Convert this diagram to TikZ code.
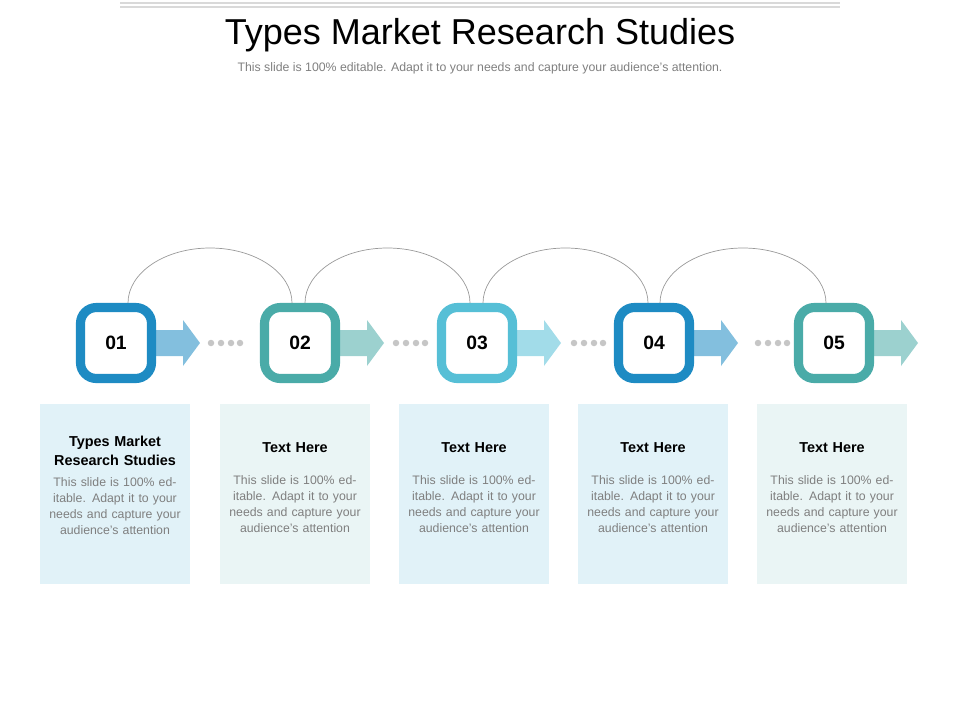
\documentclass[tikz,border=0pt]{standalone}
\usepackage{fontspec}
\setmainfont{Liberation Sans}
\usetikzlibrary{positioning, calc}
\definecolor{cblue}{HTML}{1E8BC3}
\definecolor{cteal}{HTML}{4AABA8}
\definecolor{csky}{HTML}{56BFD6}
\definecolor{pblue}{HTML}{E1F2F8}
\definecolor{pteal}{HTML}{EAF5F5}
\definecolor{txtgray}{HTML}{7F7F7F}
\begin{document}
\begin{tikzpicture}[
        x=0.02cm, y=-0.02cm,
        stepbox/.style={rectangle, rounded corners=9pt, line width=5.2pt, fill=white, minimum size=1.42cm, font=\fontsize{11}{13}\selectfont\bfseries},
        panel/.style={rectangle, minimum width=3.02cm, minimum height=3.6cm, inner sep=0pt},
        head/.style={font=\fontsize{8.2}{10.5}\selectfont\bfseries, align=center, text width=2.9cm},
        body/.style={font=\fontsize{7}{9.1}\selectfont, text=txtgray, align=center, text width=2.7cm},
        dot/.style={circle, fill=gray!45, inner sep=0pt, minimum size=0.13cm}
    ]
        \useasboundingbox (0,0) rectangle (960,720);
        \draw[gray!30, line width=1pt] (120,3) -- (840,3);
        \draw[gray!30, line width=1pt] (120,7) -- (840,7);
        \node (title) at (480,35) {\fontsize{20.5}{24}\selectfont Types Market Research Studies};
        \node[text=txtgray] (subtitle) at (480,68) {\fontsize{7}{9}\selectfont This slide is 100\% editable. Adapt it to your needs and capture your audience's attention.};

        % steps with arrows and panels
        \foreach \n/\x/\px/\c/\pc in {1/116/115/cblue/pblue, 2/300/295/cteal/pteal, 3/477/474/csky/pblue, 4/654/653/cblue/pblue, 5/834/832/cteal/pteal} {
            \fill[\c!55] ($(\x,343)+(40,-13)$) -- ++(27,0) -- ++(0,-10) -- ++(17,23) -- ++(-17,23) -- ++(0,-10) -- ++(-27,0) -- cycle;
            \node[stepbox, draw=\c] (s\n) at (\x,343) {0\n};
            \node[panel, fill=\pc] (p\n) at (\px,494) {};
        }
        \foreach \x in {211,221,231,240} {
            \node[dot] at (\x,343) {};
            \node[dot] at (\x+185,343) {};
            \node[dot] at (\x+363,343) {};
            \node[dot] at (\x+547,343) {};
        }

        % arcs over the steps
        \draw[gray!80, line width=0.4pt] (128,303) arc[start angle=180, end angle=0, x radius=82, y radius=-55];
        \draw[gray!80, line width=0.4pt] (305,303) arc[start angle=180, end angle=0, x radius=82.5, y radius=-55];
        \draw[gray!80, line width=0.4pt] (483,303) arc[start angle=180, end angle=0, x radius=82.5, y radius=-55];
        \draw[gray!80, line width=0.4pt] (660,303) arc[start angle=180, end angle=0, x radius=83, y radius=-55];

        % panel texts
        \node[head] (h1) at (115,451) {Types Market\\Research Studies};
        \node[body, below=0pt of h1] (b1) {This slide is 100\% editable. Adapt it to your needs and capture your audience's attention};
        \foreach \n/\px in {2/295, 3/474, 4/653, 5/832} {
            \node[head] (h\n) at (\px,448) {Text Here};
            \node[body, below=6pt of h\n] (b\n) {This slide is 100\% editable. Adapt it to your needs and capture your audience's attention};
        }
    \end{tikzpicture}
\end{document}
